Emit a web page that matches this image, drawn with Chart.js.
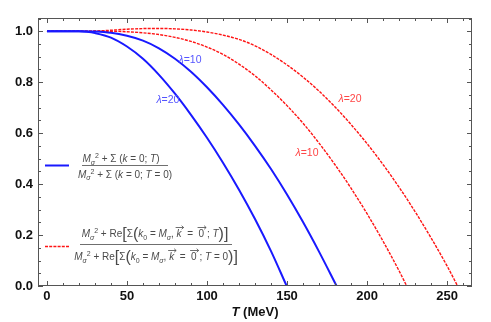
<!DOCTYPE html>
<html>
<head>
<meta charset="utf-8">
<script src="https://cdn.jsdelivr.net/npm/chart.js@4/dist/chart.umd.min.js"></script>
<style>
html,body{margin:0;padding:0;background:#fff;}
canvas{display:block;}
</style>
</head>
<body>
<canvas id="c" width="491" height="322"></canvas>
<script>
// ---- data ----
const T_BLUE20 = [0,10,20,25,30,40,50,60,70,80,90,100,110,120,130,140,149.8];
const Y_BLUE20 = [1,1,1,0.998,0.993,0.975,0.94,0.892,0.829,0.755,0.672,0.582,0.484,0.378,0.263,0.137,0];

const T_BLUE10 = [0,10,20,30,40,50,60,70,80,90,100,110,120,130,140,150,160,170,181];
const Y_BLUE10 = [1,1,1,0.999,0.994,0.982,0.963,0.933,0.892,0.841,0.78,0.711,0.634,0.55,0.459,0.359,0.251,0.135,0];

const T_RED10 = [0,10,20,30,40,50,60,70,80,90,100,110,120,130,140,150,160,170,180,190,200,210,220,224.8];
const Y_RED10 = [1,1,1,1,1,0.998,0.994,0.987,0.976,0.96,0.938,0.909,0.871,0.825,0.77,0.708,0.639,0.561,0.476,0.384,0.284,0.176,0.06,0];

const T_RED20 = [0,10,20,30,40,50,60,70,80,90,100,110,120,130,140,150,160,170,180,190,200,210,220,230,240,250,256.6];
const Y_RED20 = [1,1,1,1.001,1.004,1.008,1.0105,1.011,1.0095,1.005,0.997,0.985,0.968,0.943,0.909,0.868,0.82,0.765,0.703,0.634,0.559,0.477,0.388,0.292,0.189,0.079,0];

const X_TICKS = [0,50,100,150,200,250];
const Y_TICKS = [0,0.2,0.4,0.6,0.8,1.0];

const CURVE_LABELS = ['λ=10','λ=20','λ=20','λ=10'];
const LABEL_T = [89.4, 75.6, 189.4, 162.5];
const LABEL_Y = [0.886, 0.729, 0.733, 0.522];
const LABEL_SERIES = ['blue','blue','red','red'];

const AXIS_TITLE_ITALIC = 'T';
const AXIS_TITLE_REST = ' (MeV)';

// ---- styling ----
const FAM = '"Liberation Sans", Arial, sans-serif';
const BLUE = 'rgb(25,25,255)';
const RED = 'rgb(255,20,20)';
const BLUE_LBL = 'rgb(85,85,255)';
const RED_LBL = 'rgb(255,70,70)';
const TXT = '#4a4a4a';

function pts(ts, ys){ return ts.map((t,i)=>({x:t, y:ys[i]})); }

function font(size, it, bold){ return (it?'italic ':'') + (bold?'bold ':'') + size + 'px ' + FAM; }

// rich text: parts {t, it, s (scale), dy, vec}
function richWidth(ctx, parts, base){
  let w = 0;
  for (const p of parts){ ctx.font = font(base*(p.s||1), p.it); w += ctx.measureText(p.t).width; }
  return w;
}
function drawRich(ctx, parts, cx, y, base){
  const w = richWidth(ctx, parts, base);
  let x = cx - w/2;
  ctx.textBaseline = 'alphabetic';
  ctx.textAlign = 'left';
  for (const p of parts){
    const sz = base*(p.s||1);
    ctx.font = font(sz, p.it);
    const pw = ctx.measureText(p.t).width;
    ctx.fillText(p.t, x, y + (p.dy||0));
    if (p.vec){
      const ay = y - base*0.95;
      ctx.save();
      ctx.lineWidth = 0.8;
      ctx.beginPath();
      ctx.moveTo(x-1, ay); ctx.lineTo(x+pw+2, ay);
      ctx.moveTo(x+pw, ay-1.8); ctx.lineTo(x+pw+2, ay); ctx.lineTo(x+pw, ay+1.8);
      ctx.stroke();
      ctx.restore();
    }
    x += pw;
  }
}

const M2 = [{t:'M',it:true},{t:'σ',it:true,s:0.7,dy:2.5},{t:'2',s:0.7,dy:-4}];
const LEG1_NUM = [...M2,{t:' + Σ ('},{t:'k',it:true},{t:' = 0; '},{t:'T',it:true},{t:')'}];
const LEG1_DEN = [...M2,{t:' + Σ ('},{t:'k',it:true},{t:' = 0; '},{t:'T',it:true},{t:' = 0)'}];
const REPART = [...M2,{t:' + Re'},{t:'[',s:1.6,dy:2},{t:'Σ'},{t:'(',s:1.6,dy:2},{t:'k',it:true},{t:'0',s:0.7,dy:2.5},{t:' = '},{t:'M',it:true},{t:'σ',it:true,s:0.7,dy:2.5},{t:', '},{t:'k',it:true,vec:true},{t:'  =  '},{t:'0',vec:true},{t:' ; '},{t:'T',it:true}];
const LEG2_NUM = [...REPART,{t:')',s:1.6,dy:2},{t:']',s:1.6,dy:2}];
const LEG2_DEN = [...REPART,{t:' = 0'},{t:')',s:1.6,dy:2},{t:']',s:1.6,dy:2}];

const decorPlugin = {
  id: 'decor',
  afterDatasetsDraw(chart){
    const ctx = chart.ctx;
    const xs = chart.scales.x, ys = chart.scales.y;
    const a = chart.chartArea;
    ctx.save();
    // frame
    ctx.strokeStyle = '#555';
    ctx.lineWidth = 1;
    ctx.strokeRect(Math.round(a.left)+0.5, Math.round(a.top)+0.5, Math.round(a.right-a.left)-1, Math.round(a.bottom-a.top)-1);
    // ticks
    ctx.beginPath();
    for (let v = 0; v <= 260; v += 10){
      const px = Math.round(xs.getPixelForValue(v)) + 0.5;
      const L = (v % 50 === 0) ? 5 : 3;
      ctx.moveTo(px, a.bottom); ctx.lineTo(px, a.bottom - L);
      ctx.moveTo(px, a.top); ctx.lineTo(px, a.top + L);
    }
    for (let i = 0; i <= 21; i++){
      const v = i*0.05;
      const py = Math.round(ys.getPixelForValue(v)) + 0.5;
      const L = (i % 4 === 0) ? 5 : 3;
      ctx.moveTo(a.left, py); ctx.lineTo(a.left + L, py);
      ctx.moveTo(a.right, py); ctx.lineTo(a.right - L, py);
    }
    ctx.stroke();

    // curve labels
    ctx.textBaseline = 'middle';
    for (let i = 0; i < CURVE_LABELS.length; i++){
      const px = xs.getPixelForValue(LABEL_T[i]);
      const py = ys.getPixelForValue(LABEL_Y[i]);
      ctx.fillStyle = LABEL_SERIES[i] === 'blue' ? BLUE_LBL : RED_LBL;
      const lam = CURVE_LABELS[i].slice(0,1), rest = CURVE_LABELS[i].slice(1);
      ctx.font = font(10.5, true);
      const w1 = ctx.measureText(lam).width;
      ctx.font = font(10.5, false);
      const w2 = ctx.measureText(rest).width;
      let x0 = px - (w1+w2)/2;
      ctx.textAlign = 'left';
      ctx.font = font(10.5, true); ctx.fillText(lam, x0, py);
      ctx.font = font(10.5, false); ctx.fillText(rest, x0 + w1, py);
    }

    // legend
    ctx.lineWidth = 2; ctx.strokeStyle = BLUE;
    ctx.beginPath(); ctx.moveTo(45, 165.5); ctx.lineTo(69, 165.5); ctx.stroke();
    ctx.lineWidth = 1.4; ctx.strokeStyle = RED; ctx.setLineDash([3,1.2]);
    ctx.beginPath(); ctx.moveTo(45, 246.5); ctx.lineTo(69, 246.5); ctx.stroke();
    ctx.setLineDash([]);

    ctx.fillStyle = TXT; ctx.strokeStyle = TXT;
    drawRich(ctx, LEG1_NUM, 121, 162, 10);
    drawRich(ctx, LEG1_DEN, 125, 177.5, 10);
    ctx.lineWidth = 0.8;
    ctx.beginPath(); ctx.moveTo(82, 165.5); ctx.lineTo(168, 165.5); ctx.stroke();

    drawRich(ctx, LEG2_NUM, 155, 237, 10);
    drawRich(ctx, LEG2_DEN, 156, 260, 10);
    ctx.lineWidth = 0.8;
    ctx.beginPath(); ctx.moveTo(80, 244.5); ctx.lineTo(232, 244.5); ctx.stroke();

    // axis title
    ctx.fillStyle = '#111';
    ctx.textBaseline = 'middle'; ctx.textAlign = 'left';
    ctx.font = font(13, true, true);
    const wT = ctx.measureText(AXIS_TITLE_ITALIC).width;
    ctx.font = font(13, false, true);
    const wR = ctx.measureText(AXIS_TITLE_REST).width;
    const cx = (a.left + a.right)/2;
    let tx = cx - (wT+wR)/2;
    ctx.font = font(13, true, true); ctx.fillText(AXIS_TITLE_ITALIC, tx, 312);
    ctx.font = font(13, false, true); ctx.fillText(AXIS_TITLE_REST, tx + wT, 312);
    ctx.restore();
  }
};

new Chart(document.getElementById('c'), {
  type: 'line',
  data: {
    datasets: [
      {data: pts(T_BLUE20, Y_BLUE20), borderColor: BLUE, borderWidth: 2},
      {data: pts(T_BLUE10, Y_BLUE10), borderColor: BLUE, borderWidth: 2},
      {data: pts(T_RED10, Y_RED10), borderColor: RED, borderWidth: 1.4, borderDash: [3,1.2]},
      {data: pts(T_RED20, Y_RED20), borderColor: RED, borderWidth: 1.4, borderDash: [3,1.2]}
    ]
  },
  options: {
    responsive: false,
    devicePixelRatio: 1,
    animation: false,
    elements: { point: { radius: 0 }, line: { cubicInterpolationMode: 'monotone', fill: false } },
    layout: { padding: { left: 0, right: 19, top: 18, bottom: 0 } },
    plugins: { legend: { display: false }, tooltip: { enabled: false } },
    scales: {
      x: {
        type: 'linear', min: -5.6, max: 265.6,
        afterBuildTicks: s => { s.ticks = X_TICKS.map(v => ({value: v})); },
        afterFit: s => { s.height = 36; },
        grid: { display: false, drawTicks: false },
        border: { display: false },
        ticks: { font: { size: 13, weight: 'bold', family: FAM }, color: '#111', padding: 3, maxRotation: 0, autoSkip: false, callback: v => String(v) }
      },
      y: {
        type: 'linear', min: 0, max: 1.052,
        afterBuildTicks: s => { s.ticks = Y_TICKS.map(v => ({value: v})); },
        afterFit: s => { s.width = 38; },
        grid: { display: false, drawTicks: false },
        border: { display: false },
        ticks: { font: { size: 13, weight: 'bold', family: FAM }, color: '#111', padding: 5, autoSkip: false, callback: v => v.toFixed(1) }
      }
    }
  },
  plugins: [decorPlugin]
});
</script>
</body>
</html>
